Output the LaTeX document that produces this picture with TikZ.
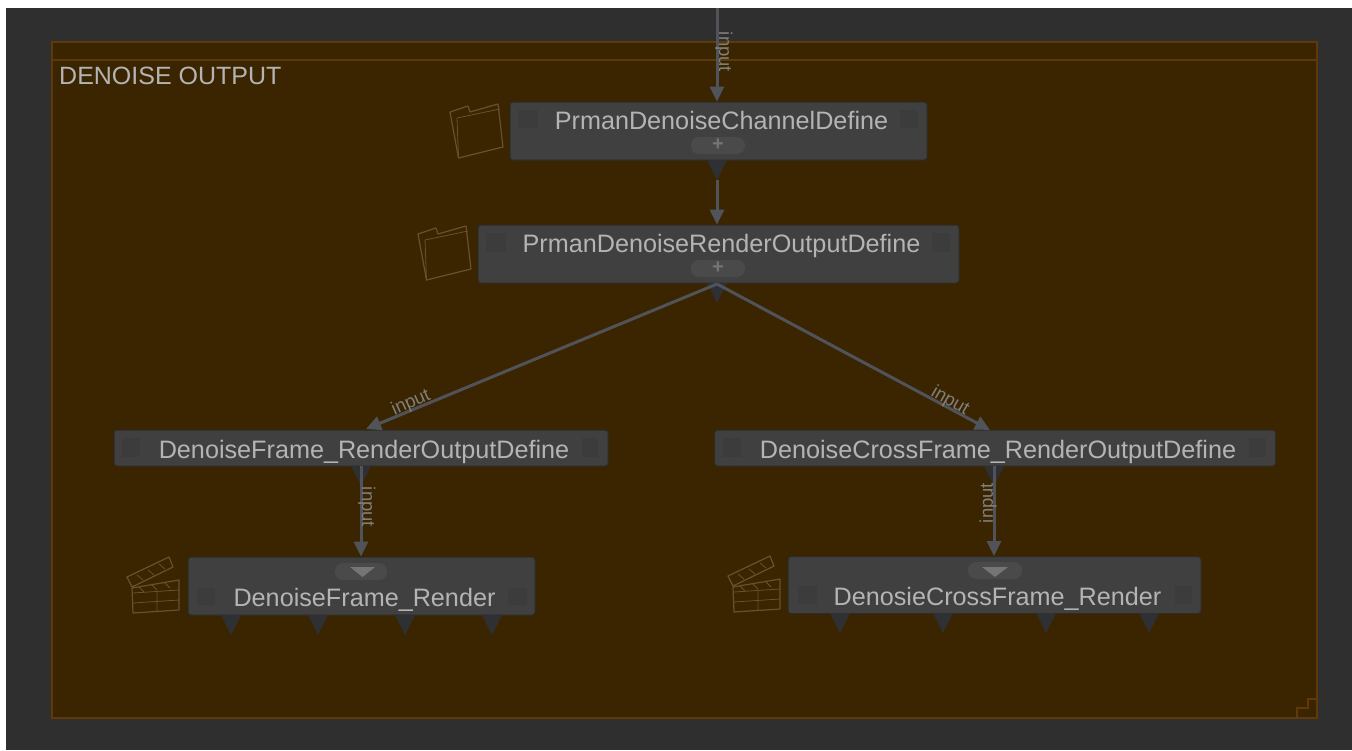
\documentclass[tikz,border=0pt]{standalone}
\usepackage{fontspec}
\setmainfont{Liberation Sans}
\usetikzlibrary{arrows.meta,calc}
\definecolor{bgc}{HTML}{2F2F2F}
\definecolor{grpfill}{HTML}{3A2500}
\definecolor{grpline}{HTML}{5F3A08}
\definecolor{boxc}{HTML}{404040}
\definecolor{boxline}{HTML}{2E2C28}
\definecolor{sqc}{HTML}{3C3C3C}
\definecolor{portc}{HTML}{2F3033}
\definecolor{edgec}{HTML}{50545A}
\definecolor{txtc}{HTML}{B4B4B4}
\definecolor{lblc}{HTML}{807F7C}
\definecolor{iconc}{HTML}{6A5030}
\definecolor{pillc}{HTML}{4A4A4A}
\definecolor{pillmark}{HTML}{757575}
\tikzset{
  groupbox/.style={draw=grpline,fill=grpfill,line width=1.6pt},
  nodebox/.style={draw=boxline,fill=boxc,line width=1pt,rounded corners=3pt,inner sep=0pt,
    text=txtc,font=\fontsize{25.2}{28}\selectfont,anchor=center,
    execute at begin node={\hspace*{6pt}}},
  square/.style={fill=sqc},
  pill/.style={fill=pillc,rounded corners=8pt},
  pillmk/.style={fill=pillmark},
  plusmk/.style={text=pillmark,font=\bfseries\fontsize{20}{20}\selectfont,inner sep=0pt},
  port/.style={fill=portc},
  edge/.style={draw=edgec,line width=3pt,-{Triangle[length=15pt,width=14pt]}},
  edgelbl/.style={text=lblc,font=\fontsize{18.5}{20}\selectfont,inner sep=0pt},
  icon/.style={draw=iconc,line width=1.2pt,line join=round},
  folder/.pic={
    \draw[icon] (0,8)--(18,2)--(20,8)--(48,0)--(53,43)--(8.5,54)--cycle;
    \draw[icon,line width=.8pt] (7,14)--(50,5);
    \draw[icon,line width=.8pt] (7,14)--(8.5,54);
  },
  clapper/.pic={
    \draw[icon] (5,31)--(52,23)--(52,53)--(6,56)--cycle;
    \draw[icon] (0,20)--(42,0)--(46,10)--(5,30)--cycle;
    \draw[icon,line width=.8pt] (6,36)--(52,33) (6,46)--(52,43) (30,35)--(30,55);
    \draw[icon,line width=.8pt] (10,18)--(16,23) (21,13)--(27,18) (32,7)--(38,12);
    \draw[icon,line width=.8pt] (12,30)--(17,35) (25,28)--(30,33) (38,26)--(43,31);
  }
}
\newcommand{\dnport}[3]{\fill[port] (#1-#3,#2) -- (#1+#3,#2) -- (#1,#2+20) -- cycle;}
\begin{document}
\begin{tikzpicture}[x=1pt,y=-1pt]
\useasboundingbox (0,0) rectangle (1352,750);
\fill[white] (0,0) rectangle (1352,750);
\fill[bgc] (6,8) rectangle (1352,750);
% group
\draw[groupbox] (52,42) rectangle (1317,718);
\draw[grpline,line width=1.6pt] (52,60) -- (1317,60);
\draw[grpline,line width=1.2pt] (1297,717) -- (1297,708) -- (1308,708) -- (1308,699) -- (1317,699);
\node[text=txtc,font=\fontsize{25}{28}\selectfont,anchor=base west,inner sep=0pt] (title) at (59,84) {DENOISE OUTPUT};
% nodes
\node[nodebox,minimum width=417pt,text height=27pt,text depth=31pt] (n1) at (718.5,131) {PrmanDenoiseChannelDefine};
\node[nodebox,minimum width=481pt,text height=27pt,text depth=31pt] (n2) at (718.5,254) {PrmanDenoiseRenderOutputDefine};
\node[nodebox,minimum width=494pt,text height=28pt,text depth=8pt] (n3) at (361,448) {DenoiseFrame\_RenderOutputDefine};
\node[nodebox,minimum width=561pt,text height=28pt,text depth=8pt] (n5) at (995,448) {DenoiseCrossFrame\_RenderOutputDefine};
\node[nodebox,minimum width=347pt,text height=49pt,text depth=9pt] (n4) at (361.5,586) {DenoiseFrame\_Render};
\node[nodebox,minimum width=413pt,text height=49pt,text depth=8pt] (n6) at (994.5,585) {DenosieCrossFrame\_Render};
% ports
\dnport{717}{160}{10}
\dnport{717}{283}{10}
\dnport{361}{466}{10}
\dnport{994}{466}{10}
\foreach \px in {231,318,405,492} {\dnport{\px}{615}{10}}
\foreach \px in {840,943,1046,1149} {\dnport{\px}{613}{10}}
\coordinate (top) at (717,8);
\coordinate (p1) at (717,180);
\coordinate (p2) at (717,284);
\coordinate (p3) at (361,466);
\coordinate (p5) at (994,466);
\coordinate (in3) at (366,429);
\coordinate (in5) at (990,430);
% connectors
\draw[edge] (top) -- (top |- n1.north);
\draw[edge] (p1) -- (p1 |- n2.north);
\draw[edge] (p2) -- (in3);
\draw[edge] (p2) -- (in5);
\draw[edge] (p3) -- (p3 |- n4.north);
\draw[edge] (p5) -- (p5 |- n6.north);
% edge labels
\node[edgelbl,rotate=-90] (l1) at (724,52) {input};
\node[edgelbl,rotate=24] (l2) at (411,403) {input};
\node[edgelbl,rotate=-30] (l3) at (950,401) {input};
\node[edgelbl,rotate=-90] (l4) at (367,507) {input};
\node[edgelbl,rotate=90] (l5) at (988,503) {input};
% small squares
\foreach \xa/\ya/\xb/\yb in {518/110/538/128,900/110/918/128,486/233/506/252,932/233/950/252,
  122/438/140/457,582/438/598/457,197/588/215/605,508/588/527/605,
  723/438/741/457,1249/438/1266/457,798/586/817/604,1175/586/1192/604}
  {\fill[square] (\xa,\ya) rectangle (\xb,\yb);}
% pills
\fill[pill] (691,137) rectangle (745,154);
\node[plusmk] (plus1) at (718,145) {+};
\fill[pill] (691,260) rectangle (745,277);
\node[plusmk] (plus2) at (718,268) {+};
\fill[pill] (335,563) rectangle (387,580);
\fill[pillmk] (350,567) -- (375,567) -- (362.5,577) -- cycle;
\fill[pill] (968,562) rectangle (1022,579);
\fill[pillmk] (982,567) -- (1008,567) -- (995,577) -- cycle;
% icons
\pic at (450,104) {folder};
\pic at (418,226) {folder};
\pic at (127,557) {clapper};
\pic at (728,556) {clapper};
\end{tikzpicture}
\end{document}
